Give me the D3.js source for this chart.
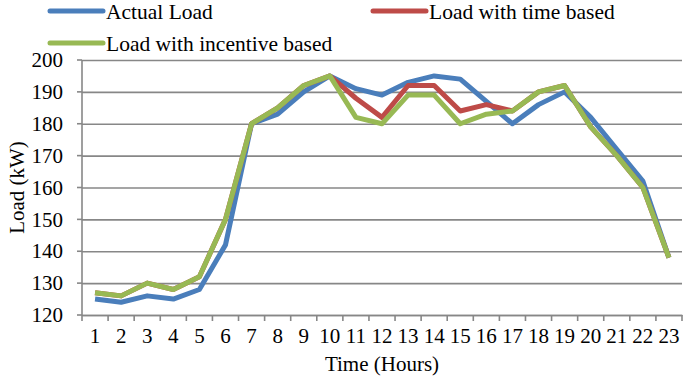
<!DOCTYPE html>
<html>
<head>
<meta charset="utf-8">
<script src="https://cdn.jsdelivr.net/npm/d3@7"></script>
<style>
  body { margin: 0; background: #fff; }
  svg text { font-family: "Liberation Serif", "DejaVu Serif", serif; fill: #000; }
</style>
</head>
<body>
<svg id="chart" width="685" height="377"></svg>
<script>
// hours on the x axis
const hours = d3.range(1, 24);

// load values in kW
const actualLoad = [125, 124, 126, 125, 128, 142, 180, 183, 190, 195, 191, 189, 193, 195, 194, 187, 180, 186, 190, 182, 172, 162, 138];
const timeBased = [127, 126, 130, 128, 132, 150, 180, 185, 192, 195, 188, 182, 192, 192, 184, 186, 184, 190, 192, 179, 170, 160, 138];
const incentiveBased = [127, 126, 130, 128, 132, 150, 180, 185, 192, 195, 182, 180, 189, 189, 180, 183, 184, 190, 192, 179, 170, 160, 138];

const yTicks = [120, 130, 140, 150, 160, 170, 180, 190, 200];

const series = [
    { name: "Actual Load", values: actualLoad, color: "#4a7ebb" },
    { name: "Load with time based", values: timeBased, color: "#be4b48" },
    { name: "Load with incentive based", values: incentiveBased, color: "#98b954" }
];

const svg = d3.select("#chart");
const plotL = 82, plotR = 682, plotT = 60, plotB = 315;
const serif = "Liberation Serif";

const x = d3.scaleBand().domain(hours).range([plotL, plotR]);
const y = d3.scaleLinear().domain([120, 200]).range([plotB, plotT]);
const gridColor = "#878787";

// horizontal gridlines + y labels
const yAxis = svg.append("g").attr("transform", `translate(${plotL},0)`)
    .call(d3.axisLeft(y).tickValues(yTicks).tickSize(-(plotR - plotL)).tickPadding(19));
yAxis.attr("font-family", serif);
yAxis.select(".domain").remove();
yAxis.selectAll(".tick line").attr("stroke", gridColor).attr("stroke-width", 1.6);
yAxis.selectAll(".tick text").attr("font-size", 21);
// little outside ticks on the y axis
svg.append("g").selectAll("line").data(yTicks).join("line")
    .attr("x1", plotL - 5).attr("x2", plotL)
    .attr("y1", d => y(d)).attr("y2", d => y(d))
    .attr("stroke", gridColor).attr("stroke-width", 1.6);
svg.append("line")
    .attr("x1", plotL).attr("x2", plotL).attr("y1", plotT).attr("y2", plotB)
    .attr("stroke", gridColor).attr("stroke-width", 1.6);

// x axis: labels centred, ticks on band edges
const xAxis = svg.append("g").attr("transform", `translate(0,${plotB})`)
    .call(d3.axisBottom(x).tickSize(0).tickPadding(13));
xAxis.attr("font-family", serif);
xAxis.select(".domain").attr("stroke", gridColor).attr("stroke-width", 1.6);
xAxis.selectAll(".tick text").attr("font-size", 21);
const edges = hours.map(h => x(h)).concat([plotR]);
svg.append("g").selectAll("line").data(edges).join("line")
    .attr("x1", d => d).attr("x2", d => d)
    .attr("y1", plotB).attr("y2", plotB + 6)
    .attr("stroke", gridColor).attr("stroke-width", 1.6);

// lines
const line = d3.line()
    .x((d, i) => x(hours[i]) + x.bandwidth() / 2)
    .y(d => y(d));
svg.append("g").selectAll("path").data(series).join("path")
    .attr("d", d => line(d.values))
    .attr("fill", "none")
    .attr("stroke", d => d.color)
    .attr("stroke-width", 5)
    .attr("stroke-linejoin", "round");

// axis titles
svg.append("text")
    .attr("x", (plotL + plotR) / 2).attr("y", 371)
    .attr("text-anchor", "middle").attr("font-size", 21)
    .attr("font-family", serif)
    .text("Time (Hours)");
svg.append("text")
    .attr("transform", `translate(24,${(plotT + plotB) / 2}) rotate(-90)`)
    .attr("text-anchor", "middle").attr("font-size", 21)
    .attr("font-family", serif)
    .text("Load (kW)");

// legend
const legendPos = [[50, 11], [373, 11], [50, 43]];
const legend = svg.append("g").selectAll("g").data(series).join("g")
    .attr("transform", (d, i) => `translate(${legendPos[i][0]},${legendPos[i][1]})`);
legend.append("line")
    .attr("x1", 0).attr("x2", 53)
    .attr("stroke", d => d.color).attr("stroke-width", 5)
    .attr("stroke-linecap", "round");
legend.append("text")
    .attr("x", 56).attr("y", 8)
    .attr("font-size", 21.5)
    .attr("font-family", serif)
    .text(d => d.name);
</script>
</body>
</html>
